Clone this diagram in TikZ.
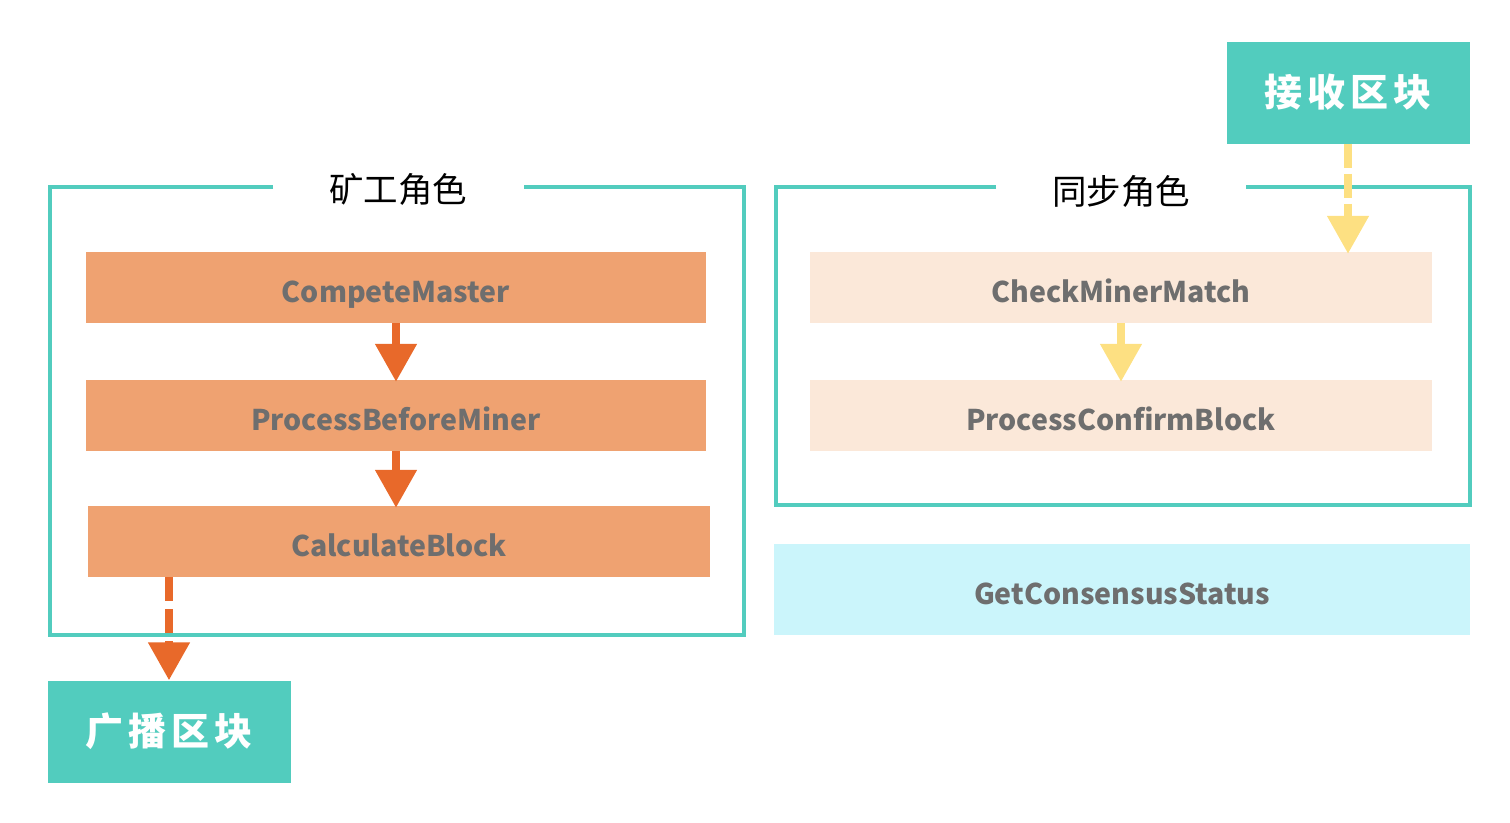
\documentclass[tikz,border=0pt]{standalone}
\usepackage{fontspec}
\setmainfont{Noto Sans CJK SC}
\usetikzlibrary{arrows.meta}
\definecolor{teal1}{HTML}{52CCBE}
\definecolor{orbox}{HTML}{EFA271}
\definecolor{orarr}{HTML}{E8692A}
\definecolor{peach}{HTML}{FBE8D9}
\definecolor{cyanbox}{HTML}{CBF5FB}
\definecolor{yel}{HTML}{FDE082}
\definecolor{txtgray}{HTML}{6E6E6E}
\tikzset{
  fn/.style={draw=none,inner sep=0pt,minimum height=71pt,text height=30pt,text depth=0pt,
    font=\fontsize{28.5}{31}\selectfont\bfseries, text=txtgray},
  orfn/.style={fn,fill=orbox,minimum width=620pt},
  pefn/.style={fn,fill=peach,minimum width=622pt},
  blk/.style={fill=teal1,inner sep=0pt,minimum width=243pt,minimum height=102pt,
    text=white,font=\fontsize{38}{42}\selectfont\bfseries},
  frame/.style={draw=teal1,line width=3.5pt},
  ttl/.style={font=\fontsize{34.5}{38}\selectfont,inner sep=0pt},
  oarr/.style={draw=orarr,line width=8pt,-{Triangle[length=38pt,width=40pt]}},
  yarr/.style={draw=yel,line width=8pt,-{Triangle[length=38pt,width=40pt]}},
}
\begin{document}
\begin{tikzpicture}[x=1pt,y=-1pt]
\useasboundingbox (0,0) rectangle (1510,822);
% frames
\draw[frame] (273,187) -- (50,187) -- (50,635) -- (744,635) -- (744,187) -- (524,187);
\draw[frame] (996,187) -- (776,187) -- (776,505) -- (1470,505) -- (1470,187) -- (1246,187);
\node[ttl] (t1) at (398,189) {矿工角色};
\node[ttl] (t2) at (1121,191) {同步角色};
% left boxes
\node[orfn] (cm) at (396,287.5) {CompeteMaster};
\node[orfn] (pb) at (396,415.5) {ProcessBeforeMiner};
\node[orfn,minimum width=622pt] (cb) at (399,541.5) {CalculateBlock};
\node[blk] (bc) at (169,731.5) {广\hspace{5pt}播\hspace{5pt}区\hspace{5pt}块};
% right boxes
\node[pefn] (ck) at (1121,287.5) {CheckMinerMatch};
\node[pefn] (pc) at (1121,415.5) {ProcessConfirmBlock};
\node[fn,fill=cyanbox,minimum width=696pt,minimum height=91pt] (gs) at (1122,589.5) {GetConsensusStatus};
\node[blk] (rb) at (1348,92.5) {接\hspace{5pt}收\hspace{5pt}区\hspace{5pt}块};
% arrows
\draw[oarr] (cm.south) -- ([yshift=-2pt]pb.north);
\draw[oarr] (pb.south) -- ([yshift=-2pt]cb.north -| pb.south);
\draw[oarr,dash pattern=on 24pt off 8pt] (cb.south -| bc.north) -- (bc.north);
\draw[yarr] (ck.south) -- ([yshift=-2pt]pc.north);
\draw[yarr,dash pattern=on 24pt off 6pt] (rb.south) -- ([yshift=-2pt]ck.north -| rb.south);
\end{tikzpicture}
\end{document}
